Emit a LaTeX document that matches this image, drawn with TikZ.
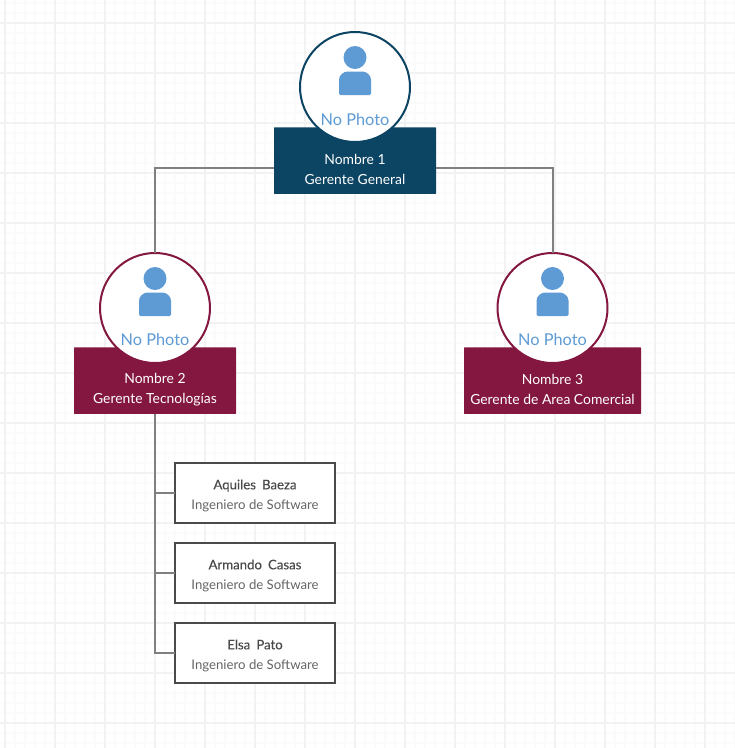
\documentclass[tikz,border=0pt]{standalone}
\usepackage{fontspec}
\setmainfont{Lato}
\newfontfamily\namefont[FakeBold=0.2,WordSpace=1.8]{Lato}
\usetikzlibrary{positioning}
\definecolor{gerenteblue}{RGB}{12,68,99}
\definecolor{gerentered}{RGB}{132,23,63}
\definecolor{photoblue}{RGB}{94,155,213}
\definecolor{inkgray}{RGB}{74,74,74}
\definecolor{linkgray}{RGB}{128,128,128}
\tikzset{
  photo/.style={circle,fill=white,line width=2pt,minimum size=110pt,inner sep=0pt,outer sep=0pt},
  cargo/.style={rectangle,rounded corners=0.5pt,minimum width=162pt,minimum height=66.5pt,inner sep=0pt,outer sep=0pt},
  cargotext/.style={text=white,font=\fontsize{13.9pt}{20pt}\selectfont,align=center,inner sep=0pt},
  nophoto/.style={text=photoblue,font=\fontsize{16.3pt}{18pt}\selectfont,inner sep=0pt},
  staff/.style={rectangle,draw=inkgray,fill=white,line width=2pt,minimum width=160pt,minimum height=60pt,
    inner sep=0pt,outer sep=0pt,align=center,text=inkgray,font=\fontsize{13.2pt}{20pt}\selectfont},
  link/.style={draw=linkgray,line width=2pt},
  person/.pic={
    \fill[photoblue] (0,-29.5) circle (11.5);
    \fill[photoblue,rounded corners=1.5pt] (-16,8) -- (-16,-6)
      .. controls (-16,-12) and (-11,-15.5) .. (-6,-15.5) -- (6,-15.5)
      .. controls (11,-15.5) and (16,-12) .. (16,-6) -- (16,8) -- cycle;
  }
}
\begin{document}
\begin{tikzpicture}[x=1pt,y=-1pt]
\useasboundingbox (0,0) rectangle (735,748);
\fill[white] (0,0) rectangle (735,748);

% Grid
\foreach \x in {5,15,...,735}{
  \draw[black!1.5,line width=1.5pt] (\x,0) -- (\x,748);
}
\foreach \y in {3,13,...,748}{
  \draw[black!1.5,line width=1.5pt] (0,\y) -- (735,\y);
}
\foreach \x in {5,55,...,735}{
  \draw[black!5,line width=1.5pt] (\x,0) -- (\x,748);
}
\foreach \y in {23,73,...,748}{
  \draw[black!5,line width=1.5pt] (0,\y) -- (735,\y);
}

% Gerente General
\node[cargo,fill=gerenteblue] (cargoA) at (355,160.5) {};
\node[photo,draw=gerenteblue] (photoA) at (355,87) {};
\pic at (355,87) {person};
\node[nophoto] (labelA) at (355,120) {No Photo};
\node[cargotext] (textA) at (355,169.5) {Nombre 1\\Gerente General};

% Gerente Tecnologias
\node[cargo,fill=gerentered] (cargoB) at (155,380.5) {};
\node[photo,draw=gerentered] (photoB) at (155,308) {};
\pic at (155,308) {person};
\node[nophoto] (labelB) at (155,340) {No Photo};
\node[cargotext] (textB) at (155,390) {Nombre 2\\Gerente Tecnologías};

% Gerente de Area Comercial
\node[cargo,fill=gerentered,minimum width=177pt] (cargoC) at (552.5,380.5) {};
\node[photo,draw=gerentered] (photoC) at (552.5,308) {};
\pic at (552.5,308) {person};
\node[nophoto] (labelC) at (552.5,340) {No Photo};
\node[cargotext] (textC) at (552.5,389.5) {Nombre 3\\Gerente de Area Comercial};

% Ingenieros
\node[staff] (aquiles) at (255,493) {\rule{0pt}{15pt}{\namefont Aquiles Baeza}\\{\color{inkgray!85}Ingeniero de Software}};
\node[staff] (armando) at (255,573) {\rule{0pt}{15pt}{\namefont Armando Casas}\\{\color{inkgray!85}Ingeniero de Software}};
\node[staff] (elsa) at (255,653) {\rule{0pt}{15pt}{\namefont Elsa Pato}\\{\color{inkgray!85}Ingeniero de Software}};

% Connectors
\coordinate (busA) at (355,168);
\draw[link] (cargoA.west |- busA) -| (photoB.north);
\draw[link] (cargoA.east |- busA) -| (photoC.north);
\draw[link] (cargoB.south) |- (elsa.west);
\draw[link] (cargoB.south |- aquiles.west) -- (aquiles.west);
\draw[link] (cargoB.south |- armando.west) -- (armando.west);
\end{tikzpicture}
\end{document}
